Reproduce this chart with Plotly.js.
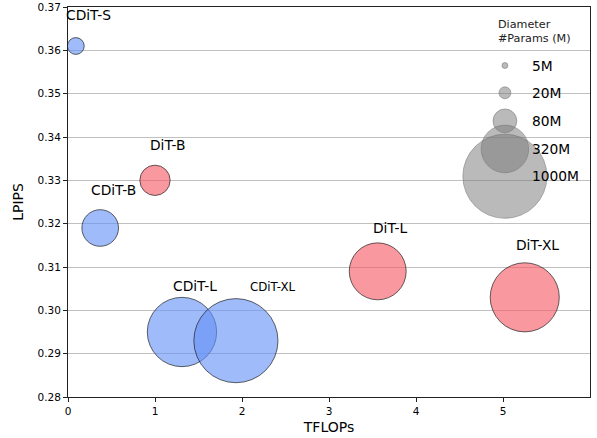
<!DOCTYPE html>
<html><head><meta charset="utf-8">
<script src="https://cdn.plot.ly/plotly-3.0.1.min.js"></script>
<style>html,body{margin:0;padding:0;background:#fff}#chart{width:597px;height:438px}</style>
</head><body><div id="chart"></div>
<script>
// ---- data ----
const cditNames = ['CDiT-S', 'CDiT-B', 'CDiT-L', 'CDiT-XL'];
const cditTflops = [0.09, 0.37, 1.31, 1.93];
const cditLpips = [0.361, 0.319, 0.295, 0.293];
const cditParams = [40, 190, 680, 1000];

const ditNames = ['DiT-B', 'DiT-L', 'DiT-XL'];
const ditTflops = [1.00, 3.56, 5.25];
const ditLpips = [0.330, 0.309, 0.303];
const ditParams = [130, 458, 675];

const legendParams = [5, 20, 80, 320, 1000];
const legendLabels = ['5M', '20M', '80M', '320M', '1000M'];

const xTickVals = [0, 1, 2, 3, 4, 5];
const yTickVals = [0.28, 0.29, 0.30, 0.31, 0.32, 0.33, 0.34, 0.35, 0.36, 0.37];

// ---- styling / layout helpers ----
const K = 2.66; // px diameter per sqrt(M params)
const diam = p => K * Math.sqrt(p);
const FONT = 'DejaVu Sans, sans-serif';

// label offsets in px (x right, y up) relative to bubble centres
const cditShift = [[13, 31], [13, 38], [13, 46.5], [37, 54]];
const ditShift = [[13, 35], [13, 43.5], [13, 52]];
const cditLabelSize = [13.8, 13.8, 13.8, 11.8];

// legend layout (fractions of the plot area)
const legX = 0.837;
const legY = [0.850, 0.780, 0.708, 0.636, 0.566];
const legTextX = 0.885;

const traces = [
  {
    type: 'scatter', mode: 'markers', x: cditTflops, y: cditLpips,
    marker: {size: cditParams.map(diam), sizemode: 'diameter', sizeref: 1, opacity: 1,
      color: 'rgba(100,145,245,0.62)', line: {color: 'rgba(20,20,20,0.65)', width: 1}},
    hoverinfo: 'skip', showlegend: false, cliponaxis: false
  },
  {
    type: 'scatter', mode: 'markers', x: ditTflops, y: ditLpips,
    marker: {size: ditParams.map(diam), sizemode: 'diameter', sizeref: 1, opacity: 1,
      color: 'rgba(245,90,100,0.62)', line: {color: 'rgba(20,20,20,0.65)', width: 1}},
    hoverinfo: 'skip', showlegend: false, cliponaxis: false
  },
  {
    type: 'scatter', mode: 'markers', xaxis: 'x2', yaxis: 'y2',
    x: legendParams.map(() => legX), y: legY,
    marker: {size: legendParams.map(diam), sizemode: 'diameter', sizeref: 1, opacity: 1,
      color: 'rgba(125,125,125,0.53)', line: {color: 'rgba(110,110,110,0.5)', width: 1}},
    hoverinfo: 'skip', showlegend: false, cliponaxis: false
  }
];

const annotations = [];
cditNames.forEach((n, i) => annotations.push({
  x: cditTflops[i], y: cditLpips[i], xref: 'x', yref: 'y', text: n, showarrow: false,
  xanchor: 'center', yanchor: 'middle', xshift: cditShift[i][0], yshift: cditShift[i][1],
  font: {family: FONT, size: cditLabelSize[i], color: '#000'}
}));
ditNames.forEach((n, i) => annotations.push({
  x: ditTflops[i], y: ditLpips[i], xref: 'x', yref: 'y', text: n, showarrow: false,
  xanchor: 'center', yanchor: 'middle', xshift: ditShift[i][0], yshift: ditShift[i][1],
  font: {family: FONT, size: 13.8, color: '#000'}
}));
legendLabels.forEach((t, i) => annotations.push({
  x: legTextX, y: legY[i], xref: 'paper', yref: 'paper', text: t, showarrow: false,
  xanchor: 'left', yanchor: 'middle', font: {family: FONT, size: 13.8, color: '#000'}
}));
annotations.push({x: 0.8196, y: 0.954, xref: 'paper', yref: 'paper', text: 'Diameter',
  showarrow: false, xanchor: 'left', yanchor: 'middle', font: {family: FONT, size: 11.2, color: '#222'}});
annotations.push({x: 0.8196, y: 0.9205, xref: 'paper', yref: 'paper', text: '#Params (M)',
  showarrow: false, xanchor: 'left', yanchor: 'middle', font: {family: FONT, size: 11.2, color: '#222'}});

const layout = {
  width: 597, height: 438,
  margin: {l: 67.7, r: 6.7, t: 7, b: 41.3},
  paper_bgcolor: '#fff', plot_bgcolor: '#fff',
  font: {family: FONT, color: '#000'},
  showlegend: false, hovermode: false,
  xaxis: {
    range: [0, 6], tickvals: xTickVals, ticktext: xTickVals.map(String),
    showgrid: false, zeroline: false, showline: true, mirror: true,
    linecolor: '#222', linewidth: 1, ticks: 'outside', ticklen: 4, tickcolor: '#222',
    tickfont: {family: FONT, size: 10.5, color: '#000'},
    title: {text: 'TFLOPs', font: {family: FONT, size: 14, color: '#000'}, standoff: 6},
    automargin: false
  },
  yaxis: {
    range: [0.28, 0.37], tickvals: yTickVals, ticktext: yTickVals.map(v => v.toFixed(2)),
    showgrid: true, gridcolor: '#c0c0c0', gridwidth: 1, zeroline: false,
    showline: true, mirror: true, linecolor: '#222', linewidth: 1,
    ticks: 'outside', ticklen: 4, tickcolor: '#222',
    tickfont: {family: FONT, size: 10.5, color: '#000'},
    title: {text: 'LPIPS', font: {family: FONT, size: 14, color: '#000'}, standoff: 10},
    automargin: false
  },
  xaxis2: {overlaying: 'x', range: [0, 1], visible: false, fixedrange: true},
  yaxis2: {overlaying: 'y', range: [0, 1], visible: false, fixedrange: true},
  annotations: annotations
};

Plotly.newPlot('chart', traces, layout, {staticPlot: true, displayModeBar: false});
</script>
</body></html>
